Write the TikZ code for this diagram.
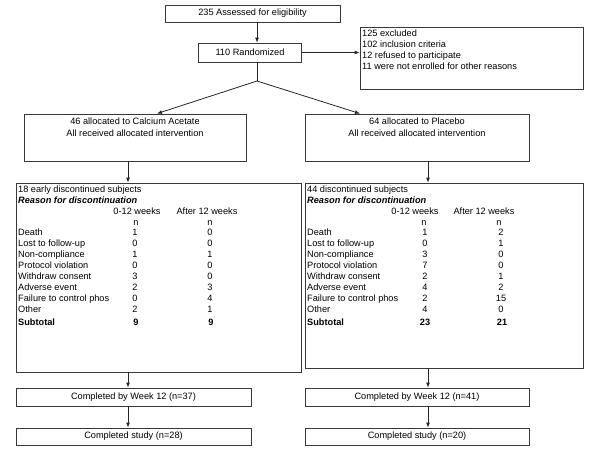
\documentclass[tikz,border=0pt]{standalone}
\usepackage{fontspec}
\setmainfont{Liberation Sans}
\usetikzlibrary{arrows.meta}
\tikzset{
  box/.style={draw=black!78, line width=0.8pt, inner sep=0pt, font=\fontsize{9.2}{11}\selectfont},
  txt/.style={inner sep=0pt, text height=6.6pt, text depth=0pt, font=\fontsize{9.2}{11}\selectfont},
  flow/.style={draw=black!85, line width=0.8pt, -{Latex[length=5pt,width=4pt]}},
}

\begin{document}
\begin{tikzpicture}[x=1pt,y=-1pt]
\useasboundingbox (0,0) rectangle (600,466);
% boxes
\node[box, minimum width=175pt, minimum height=17pt] (assess) at (252.5,13.5) {235 Assessed for eligibility};
\node[box, minimum width=103pt, minimum height=19pt] (rand) at (250,52.5) {110 Randomized};
\node[box, minimum width=223pt, minimum height=62pt] (excl) at (471.5,58) {};
\node[txt, anchor=north west, align=left, text height=, text depth=] (excltext) at (362,29.5) {125 excluded\\102 inclusion criteria\\12 refused to participate\\11 were not enrolled for other reasons};
\node[box, minimum width=222pt, minimum height=47pt] (allocL) at (135,137.5) {};
\node[box, minimum width=224pt, minimum height=47pt] (allocR) at (417,137.5) {};
\node[txt, align=center, anchor=north, text height=, text depth=, font=\fontsize{9.2}{12}\selectfont] (allocLtext) at (135,117.5) {46 allocated to Calcium Acetate\\All received allocated intervention};
\node[txt, align=center, anchor=north, text height=, text depth=, font=\fontsize{9.2}{12}\selectfont] (allocRtext) at (417,117.5) {64 allocated to Placebo\\All received allocated intervention};
\node[box, minimum width=285pt, minimum height=189pt] (discL) at (158.5,277.5) {};
\node[box, minimum width=278pt, minimum height=185pt] (discR) at (444,275.5) {};
\node[box, minimum width=235pt, minimum height=18pt] (weekL) at (133.5,397) {Completed by Week 12 (n=37)};
\node[box, minimum width=235pt, minimum height=17pt] (studyL) at (133.5,436.5) {Completed study (n=28)};
\node[box, minimum width=224pt, minimum height=18pt] (weekR) at (417,397) {Completed by Week 12 (n=41)};
\node[box, minimum width=224pt, minimum height=17pt] (studyR) at (417,436.5) {Completed study (n=20)};

% table, calcium acetate arm
\node[txt, anchor=west] (headL) at (18,189) {18 early discontinued subjects};
\node[txt, anchor=west] (reasonL) at (18,200) {\bfseries\itshape Reason for discontinuation};
\node[txt] (wkL) at (137,211) {0-12 weeks};
\node[txt] (aftL) at (207,211) {After 12 weeks};
\node[txt] (nLa) at (136,222) {n};
\node[txt] (nLb) at (210,222) {n};
\foreach \lab/\a/\b [count=\i] in {Death/1/0, Lost to follow-up/0/0, Non-compliance/1/1, Protocol violation/0/0, Withdraw consent/3/0, Adverse event/2/3, Failure to control phos/0/4, Other/2/1}{
  \node[txt, anchor=west] (rowL\i) at (18,221+11*\i) {\lab};
  \node[txt] (rowLa\i) at (135,221+11*\i) {\a};
  \node[txt] (rowLb\i) at (210,221+11*\i) {\b};
}
\node[txt, anchor=west] (subL) at (18,322) {\bfseries Subtotal};
\node[txt] (subLa) at (136,322) {\bfseries 9};
\node[txt] (subLb) at (211,322) {\bfseries 9};

% table, placebo arm
\node[txt, anchor=west] (headR) at (307,189) {44 discontinued subjects};
\node[txt, anchor=west] (reasonR) at (307,200) {\bfseries\itshape Reason for discontinuation};
\node[txt] (wkR) at (415,211) {0-12 weeks};
\node[txt] (aftR) at (484,211) {After 12 weeks};
\node[txt] (nRa) at (424,222) {n};
\node[txt] (nRb) at (499,222) {n};
\foreach \lab/\a/\b [count=\i] in {Death/1/2, Lost to follow-up/0/1, Non-compliance/3/0, Protocol violation/7/0, Withdraw consent/2/1, Adverse event/4/2, Failure to control phos/2/15, Other/4/0}{
  \node[txt, anchor=west] (rowR\i) at (307,221+11*\i) {\lab};
  \node[txt] (rowRa\i) at (425,221+11*\i) {\a};
  \node[txt] (rowRb\i) at (501,221+11*\i) {\b};
}
\node[txt, anchor=west] (subR) at (307,322) {\bfseries Subtotal};
\node[txt] (subRa) at (425,322) {\bfseries 23};
\node[txt] (subRb) at (502,322) {\bfseries 21};

% connectors
\coordinate (split) at (257,81);
\coordinate (colTop) at (257,0);
\coordinate (hitL) at (157,0);
\coordinate (hitR) at (360,0);
\coordinate (colL) at (128,0);
\coordinate (colR) at (428,0);
\draw[flow] (colTop |- assess.south) -- (colTop |- rand.north);
\draw[flow] (rand.east) -- (rand.east -| excl.west);
\draw[draw=black!85, line width=0.8pt] (colTop |- rand.south) -- (split);
\draw[flow] (split) -- (hitL |- allocL.north);
\draw[flow] (split) -- (hitR |- allocR.north);
\draw[flow] (colL |- allocL.south) -- (colL |- discL.north);
\draw[flow] (colR |- allocR.south) -- (colR |- discR.north);
\draw[flow] (colL |- discL.south) -- (colL |- weekL.north);
\draw[flow] (colR |- discR.south) -- (colR |- weekR.north);
\draw[flow] (colL |- weekL.south) -- (colL |- studyL.north);
\draw[flow] (colR |- weekR.south) -- (colR |- studyR.north);
\end{tikzpicture}
\end{document}
